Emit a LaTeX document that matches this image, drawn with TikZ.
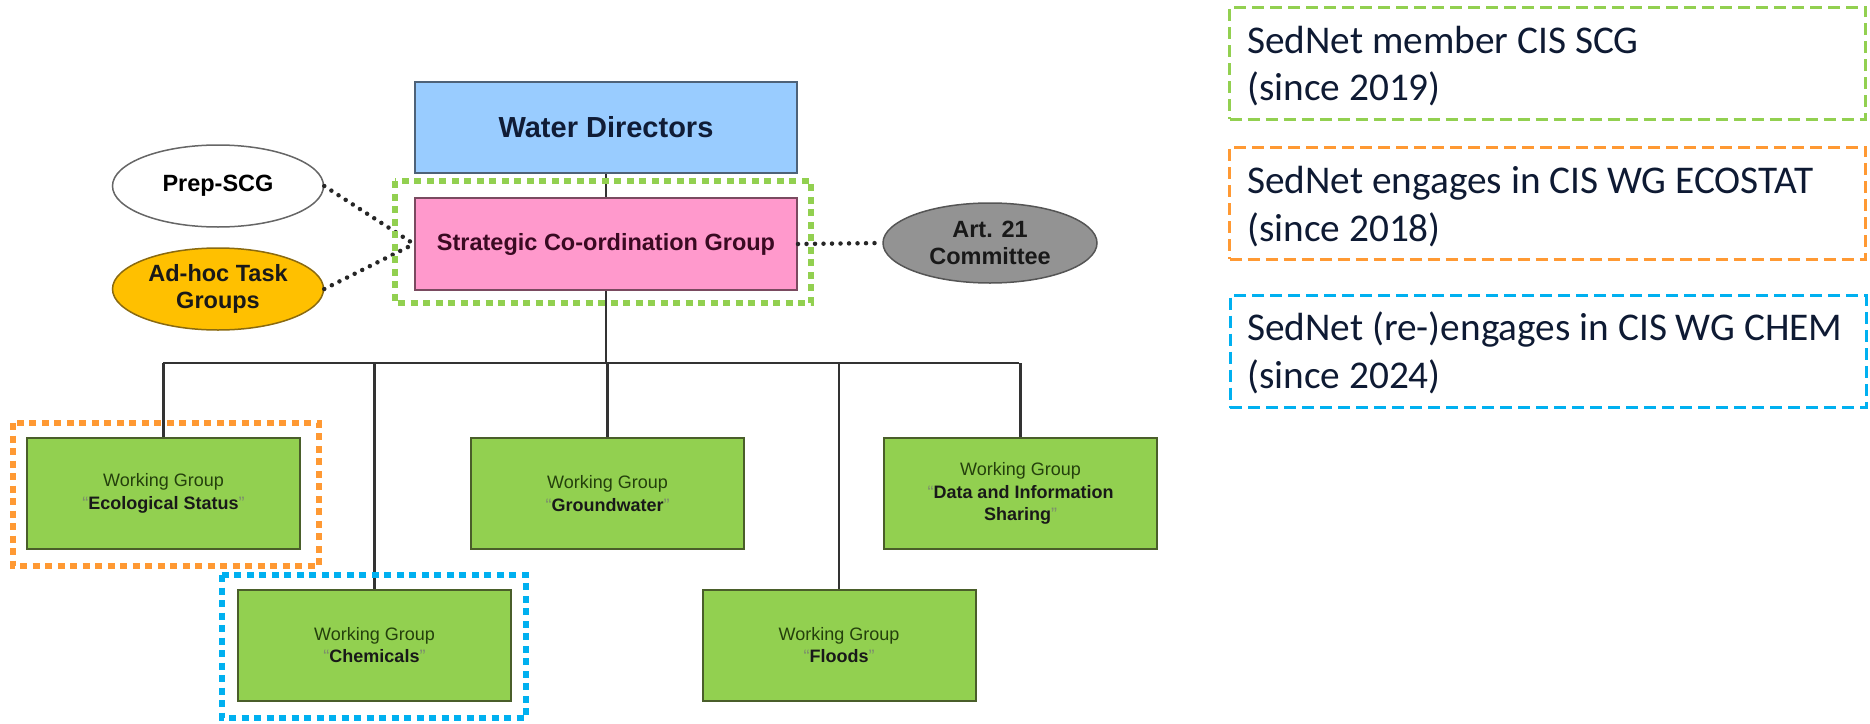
\documentclass[tikz,border=0pt]{standalone}
\usepackage{fontspec}
\setmainfont{Carlito}
\newfontfamily\arialf{Liberation Sans}
\usetikzlibrary{shapes.geometric}
\definecolor{wdblue}{HTML}{99CCFF}
\definecolor{wdline}{HTML}{4E6278}
\definecolor{wdtext}{HTML}{101C36}
\definecolor{scgpink}{HTML}{FF99CC}
\definecolor{scgline}{HTML}{7A4A60}
\definecolor{scgtext}{HTML}{3A0A22}
\definecolor{wggreen}{HTML}{92D050}
\definecolor{wgline}{HTML}{4A5E2A}
\definecolor{wgtext}{HTML}{24400C}
\definecolor{adhocfill}{HTML}{FFC000}
\definecolor{adhocline}{HTML}{8A6A10}
\definecolor{artfill}{HTML}{939393}
\definecolor{artline}{HTML}{555555}
\definecolor{prepline}{HTML}{666666}
\definecolor{linegray}{HTML}{333333}
\definecolor{framegreen}{HTML}{92D050}
\definecolor{frameorange}{HTML}{FF9933}
\definecolor{frameblue}{HTML}{00B0F0}
\definecolor{legtext}{HTML}{0E1A33}
\begin{document}
\begin{tikzpicture}[x=1pt,y=-1pt,
  chartbox/.style={rectangle, line width=2pt, inner sep=2pt, align=center},
  wdbox/.style={chartbox, fill=wdblue, draw=wdline, minimum width=382pt, minimum height=91pt,
    text=wdtext, font=\arialf\bfseries\fontsize{29}{33}\selectfont},
  scgbox/.style={chartbox, fill=scgpink, draw=scgline, minimum width=382pt, minimum height=92pt,
    text=scgtext, font=\arialf\bfseries\fontsize{23.5}{27}\selectfont},
  wg/.style={chartbox, fill=wggreen, draw=wgline, minimum width=273pt, minimum height=111pt,
    text=wgtext, font=\arialf\fontsize{18}{22.5}\selectfont},
  oval/.style={ellipse, line width=1.5pt, minimum width=211pt, minimum height=82pt, inner sep=0pt,
    align=center, font=\arialf\bfseries\fontsize{23.5}{27}\selectfont},
  frame/.style={line width=6pt, dash pattern=on 7pt off 5.5pt},
  legendbox/.style={rectangle, draw=#1, line width=3pt, dash pattern=on 12pt off 6pt,
    minimum width=636pt, minimum height=112pt, inner sep=0pt},
  legtxt/.style={anchor=base west, inner sep=0pt, text=legtext, font=\fontsize{39.3}{46}\selectfont},
  dotline/.style={line width=4.5pt, dash pattern=on 0pt off 8.5pt, line cap=round, draw=black!85},
  treeline/.style={line width=2.5pt, draw=linegray}
]
\useasboundingbox (0,0) rectangle (1870,723);

\coordinate (busL) at (163,363);
\coordinate (busR) at (1019,363);

% main nodes
\node[wdbox] (wd) at (606,127.5) {Water Directors};
\node[scgbox] (scg) at (606,244) {Strategic Co-ordination Group};
\node[oval, fill=white, draw=prepline] (prep) at (218,186) {Prep-SCG};
\node[oval, fill=adhocfill, draw=adhocline, text=black!90] (adhoc) at (218,289) {Ad-hoc Task\\Groups};
\node[oval, fill=artfill, draw=artline, minimum width=214pt, minimum height=80pt, text=black!90] (art) at (990,243) {Art. 21\\Committee};

\newcommand{\wgq}[1]{\textcolor{wgtext!60}{“}\textbf{\textcolor{black!90}{#1}}\textcolor{wgtext!60}{”}}
\node[wg] (eco) at (163.5,493.5) {Working Group\\\wgq{Ecological Status}};
\node[wg] (gw) at (607.5,493.5) {Working Group\\\wgq{Groundwater}};
\node[wg] (data) at (1020.5,493.5) {Working Group\\\textcolor{wgtext!60}{“}\textbf{\textcolor{black!90}{Data and Information}}\\\textbf{\textcolor{black!90}{Sharing}}\textcolor{wgtext!60}{”}};
\node[wg] (chem) at (374.5,645) {Working Group\\\wgq{Chemicals}};
\node[wg] (floods) at (839,645) {Working Group\\\wgq{Floods}};

% tree lines
\draw[treeline] (wd.south) -- (scg.north);
\draw[treeline] (scg.south) -- (scg.south |- busL);
\draw[treeline] (busL) -- (busR);
\draw[treeline] (eco.north) -- (eco.north |- busL);
\draw[treeline] (gw.north) -- (gw.north |- busL);
\draw[treeline] (data.north) -- (data.north |- busL);
\draw[treeline] (chem.north) -- (chem.north |- busL);
\draw[treeline] (floods.north) -- (floods.north |- busL);

% dotted links
\draw[dotline] (prep.east) -- (scg.west);
\draw[dotline] (adhoc.east) -- (scg.west);
\draw[dotline] (scg.east) -- (art.west);

% highlight frames
\draw[frame, draw=framegreen] (395,181) rectangle (811,303);
\draw[frame, draw=frameorange] (13,423) rectangle (319,566);
\draw[frame, draw=frameblue] (222,575) rectangle (526,718);

% legend
\node[legendbox=framegreen] (leg1) at (1547.5,63) {};
\node[legtxt] (leg1a) at (1247,53) {SedNet member CIS SCG};
\node[legtxt] (leg1b) at (1247,100) {(since 2019)};
\node[legendbox=frameorange] (leg2) at (1547.5,203) {};
\node[legtxt] (leg2a) at (1247,193) {SedNet engages in CIS WG ECOSTAT};
\node[legtxt] (leg2b) at (1247,241) {(since 2018)};
\node[legendbox=frameblue] (leg3) at (1548,351.5) {};
\node[legtxt] (leg3a) at (1247,340) {SedNet (re-)engages in CIS WG CHEM};
\node[legtxt] (leg3b) at (1247,388) {(since 2024)};
\end{tikzpicture}
\end{document}
